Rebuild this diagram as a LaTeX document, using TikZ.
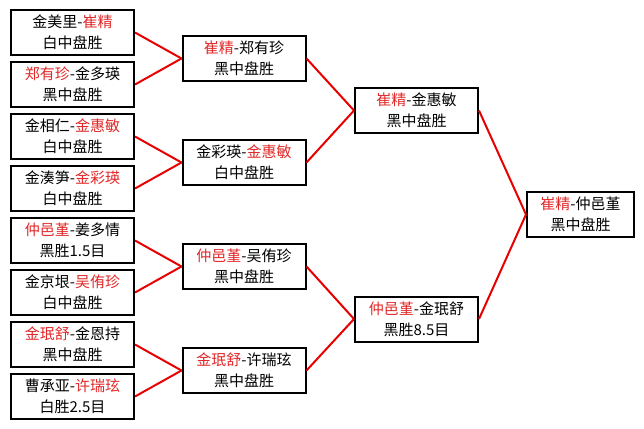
\documentclass[tikz,border=0pt]{standalone}
\usepackage{fontspec}
\usepackage{xcolor}
\setmainfont{Noto Sans CJK SC}
\usetikzlibrary{positioning}
\definecolor{winred}{RGB}{226,40,40}
\definecolor{linkred}{RGB}{232,0,0}
\newcommand{\win}[1]{\textcolor{winred}{#1}}

\begin{document}
\begin{tikzpicture}
  [x=0.75pt,y=-0.75pt,
   every node/.style={draw=black,line width=1.5pt,fill=white,align=center,
     minimum height=33.75pt,inner sep=0pt,
     font=\fontsize{11.25pt}{15.75pt}\selectfont},
   wide/.style={minimum width=92.25pt},
   narrow/.style={minimum width=80.25pt}]
  \useasboundingbox (0,0) rectangle (644,429);

  \node[wide] (n1) at (72.5,32.5)  {金美里-\win{崔精}\\白中盘胜};
  \node[wide] (n2) at (72.5,84.5)  {\win{郑有珍}-金多瑛\\黑中盘胜};
  \node[wide] (n3) at (72.5,136.5) {金相仁-\win{金惠敏}\\白中盘胜};
  \node[wide] (n4) at (72.5,188.5) {金湊笋-\win{金彩瑛}\\白中盘胜};
  \node[wide] (n5) at (72.5,240.5) {\win{仲邑堇}-姜多情\\黑胜1.5目};
  \node[wide] (n6) at (72.5,292.5) {金京垠-\win{吴侑珍}\\白中盘胜};
  \node[wide] (n7) at (72.5,344.5) {\win{金珉舒}-金恩持\\黑中盘胜};
  \node[wide] (n8) at (72.5,396.5) {曹承亚-\win{许瑞玹}\\白胜2.5目};

  \node[wide] (q1) at (244,58.5)  {\win{崔精}-郑有珍\\黑中盘胜};
  \node[wide] (q2) at (244,162.5) {金彩瑛-\win{金惠敏}\\白中盘胜};
  \node[wide] (q3) at (244,266.5) {\win{仲邑堇}-吴侑珍\\黑中盘胜};
  \node[wide] (q4) at (244,370.5) {\win{金珉舒}-许瑞玹\\黑中盘胜};

  \node[wide] (s1) at (416.5,110.5) {\win{崔精}-金惠敏\\黑中盘胜};
  \node[wide] (s2) at (416.5,319)   {\win{仲邑堇}-金珉舒\\黑胜8.5目};

  \node[narrow] (f) at (580.5,214.5) {\win{崔精}-仲邑堇\\黑中盘胜};

  \foreach \from/\to in {n1/q1,n2/q1,n3/q2,n4/q2,n5/q3,n6/q3,n7/q4,n8/q4,
                         q1/s1,q2/s1,q3/s2,q4/s2,s1/f,s2/f}
    \draw[linkred,line width=1.5pt] (\from.east) -- (\to.west);

\end{tikzpicture}
\end{document}
